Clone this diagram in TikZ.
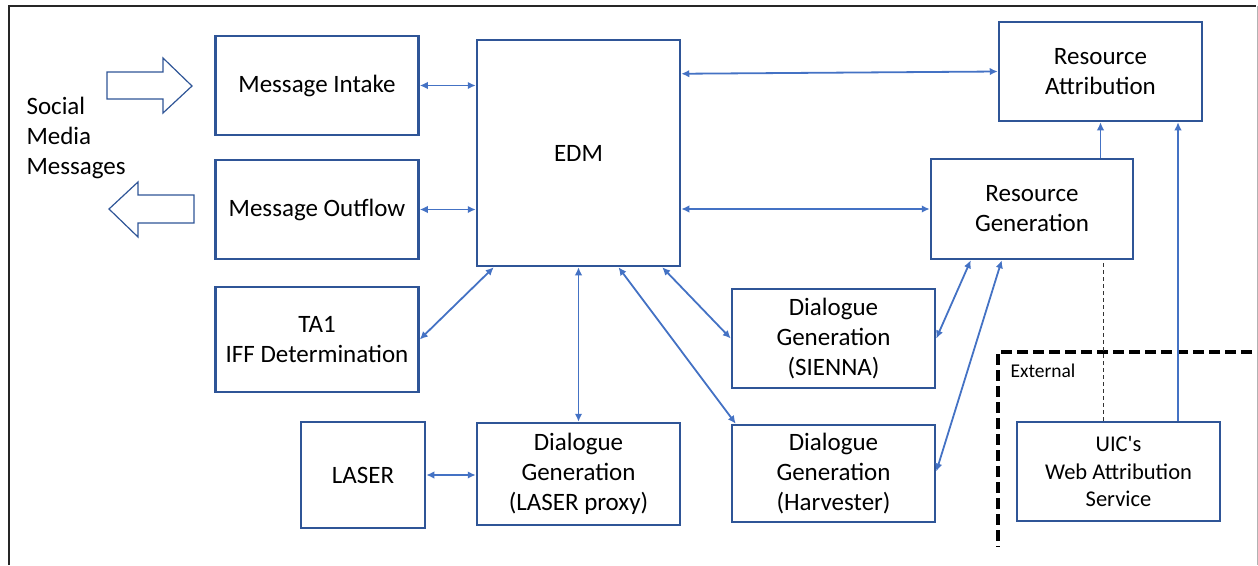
\documentclass[tikz,border=0pt]{standalone}
\usepackage{fontspec}
\setmainfont{Carlito}[Ligatures=TeXOff]
\usetikzlibrary{arrows.meta}
\definecolor{boxblue}{HTML}{2F5597}
\definecolor{lineblue}{HTML}{4472C4}
\begin{document}
\begin{tikzpicture}[x=1pt,y=-1pt,
  box/.style={draw=boxblue, line width=2.5pt, minimum width=203pt, minimum height=99pt, align=center, inner sep=0pt, font=\fontsize{25}{30}\selectfont},
  link/.style={lineblue, line width=1.8pt, {Latex[length=8pt,width=7.5pt]}-{Latex[length=8pt,width=7.5pt]}},
  uplink/.style={lineblue, line width=1.8pt, -{Latex[length=8pt,width=7.5pt]}},
  fatarrow/.style={draw=boxblue, line width=1.2pt, fill=white}]
\useasboundingbox (0,0) rectangle (1258,565);
% frame
\draw[black!85, line width=1.6pt] (9,565) -- (9,6) -- (1256,6);
\draw[black!30, line width=1pt] (1257,6) -- (1257,565);
% social media side
\node[anchor=west, align=left, font=\fontsize{25}{30}\selectfont] (social) at (23,138) {Social\\Media\\Messages};
\draw[fatarrow] (107,72) -- (163,72) -- (163,58) -- (192,86) -- (163,113) -- (163,99) -- (107,99) -- cycle;
\draw[fatarrow] (194,195) -- (138,195) -- (138,182) -- (109,209) -- (138,237) -- (138,223) -- (194,223) -- cycle;
% boxes
\node[box] (intake) at (317,85.5) {Message Intake};
\node[box] (outflow) at (317,209.5) {Message Outflow};
\node[box, minimum height=105pt] (ta1) at (317,339.5) {TA1\\IFF Determination};
\node[box, minimum width=124pt, minimum height=106pt] (laser) at (363,475) {LASER};
\node[box, minimum height=226pt] (edm) at (578.5,153) {EDM};
\node[box, minimum height=102pt] (proxy) at (578.5,474) {Dialogue\\Generation\\(LASER proxy)};
\node[box] (sienna) at (833.5,338.5) {Dialogue\\Generation\\(SIENNA)};
\node[box, minimum height=97pt] (harvester) at (833.5,473.5) {Dialogue\\Generation\\(Harvester)};
\node[box, minimum width=202pt, minimum height=100pt] (resgen) at (1032,209) {Resource\\Generation};
\node[box] (resattr) at (1100.5,71.5) {Resource\\Attribution};
\node[box, font=\fontsize{22.5}{27.5}\selectfont] (uic) at (1118.5,471.5) {UIC's\\Web Attribution\\Service};
% external zone
\draw[black, line width=3.5pt, dash pattern=on 11pt off 5pt] (1252,352) -- (998,352) -- (998,547);
\node[anchor=west, font=\fontsize{19.5}{23}\selectfont] (external) at (1007,371) {External};
% links
\draw[link] (intake.east) -- (edm.west |- intake.east);
\draw[link] (outflow.east) -- (edm.west |- outflow.east);
\draw[link] ([yshift=-35pt]edm.north east) -- (resattr.west);
\draw[link] (edm.east |- resgen.west) -- (resgen.west);
\draw[link] ([xshift=18pt]edm.south west) -- (ta1.east);
\draw[link] (edm.south) -- (proxy.north);
\draw[link] ([xshift=40pt]edm.south) -- ([xshift=5pt]harvester.north west);
\draw[link] ([xshift=-19pt]edm.south east) -- (sienna.west);
\draw[link] (laser.east) -- (proxy.west |- laser.east);
\draw[link] (sienna.east) -- ([xshift=41pt]resgen.south west);
\draw[link] ([yshift=2pt]harvester.east) -- ([xshift=72pt]resgen.south west);
\draw[uplink] (resattr.south |- resgen.north) -- (resattr.south);
\draw[uplink] ([xshift=59.5pt]uic.north) -- ([xshift=77.5pt]resattr.south);
\draw[black!80, line width=1pt, dash pattern=on 4pt off 3pt] ([xshift=-15.5pt]uic.north) -- ([xshift=-15.5pt]uic.north |- resgen.south);
\end{tikzpicture}
\end{document}
